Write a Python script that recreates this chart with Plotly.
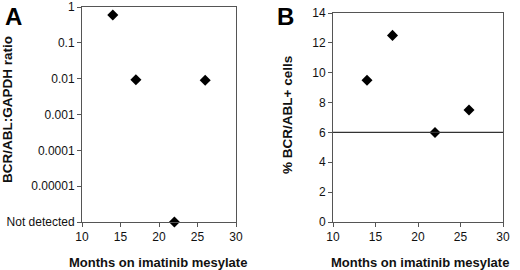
import plotly.graph_objects as go

# Panel A data
months_a = [14, 17, 22, 26]
ratio_a = [0.6, 0.0093, 1e-6, 0.009]   # 1e-6 plotted at "Not detected"
a_tickvals = [1e-6, 1e-5, 1e-4, 1e-3, 1e-2, 1e-1, 1]
a_ticktext = ["Not detected", "0.00001", "0.0001", "0.001", "0.01", "0.1", "1"]

# Panel B data
months_b = [14, 17, 22, 26]
pct_b = [9.5, 12.5, 6.0, 7.5]
threshold_b = 6.0

x_ticks = [10, 15, 20, 25, 30]
b_yticks = [0, 2, 4, 6, 8, 10, 12, 14]

FONT = "Liberation Sans, Arial, sans-serif"
W, H = 520, 270

def fx(px):
    return px / W

def fy(py):
    return 1 - py / H

fig = go.Figure()
fig.add_trace(go.Scatter(x=months_a, y=ratio_a, mode="markers", xaxis="x", yaxis="y",
                         marker=dict(symbol="diamond", size=8.5, color="black"),
                         cliponaxis=False, showlegend=False))
fig.add_trace(go.Scatter(x=months_b, y=pct_b, mode="markers", xaxis="x2", yaxis="y2",
                         marker=dict(symbol="diamond", size=8.5, color="black"),
                         cliponaxis=False, showlegend=False))

axis_common = dict(showline=True, mirror=True, linecolor="#555", linewidth=1,
                   ticks="outside", ticklen=4, tickcolor="#555", showgrid=False,
                   zeroline=False, automargin=False,
                   tickfont=dict(family=FONT, size=12, color="#111"))

fig.update_layout(
    template="none",
    width=W, height=H, margin=dict(l=0, r=0, t=0, b=0, pad=0), autosize=False,
    plot_bgcolor="white", paper_bgcolor="white",
    xaxis=dict(domain=[fx(82), fx(236)], anchor="y", range=[10, 30],
               tickvals=x_ticks, **axis_common),
    yaxis=dict(domain=[fy(222), fy(7)], anchor="x", type="log", range=[-6, 0],
               tickvals=a_tickvals, ticktext=a_ticktext, **axis_common),
    xaxis2=dict(domain=[fx(333), fx(503)], anchor="y2", range=[10, 30],
                tickvals=x_ticks, **axis_common),
    yaxis2=dict(domain=[fy(222), fy(13)], anchor="x2", range=[0, 14],
                tickvals=b_yticks, **axis_common),
    shapes=[dict(type="line", xref="x2 domain", x0=0, x1=1, yref="y2",
                 y0=threshold_b, y1=threshold_b, line=dict(color="#333", width=1.2))],
)

title_font = dict(family=FONT, size=13.5, color="#111")
ann = [
    dict(text="<b>A</b>", x=fx(3), y=fy(1), xanchor="left", yanchor="top",
         font=dict(family=FONT, size=24, color="black")),
    dict(text="<b>B</b>", x=fx(275), y=fy(1), xanchor="left", yanchor="top",
         font=dict(family=FONT, size=24, color="black")),
    dict(text="<b>BCR/ABL:GAPDH ratio</b>", x=fx(7), y=fy(110), textangle=-90,
         xanchor="center", yanchor="middle", font=title_font),
    dict(text="<b>% BCR/ABL+ cells</b>", x=fx(287), y=fy(115), textangle=-90,
         xanchor="center", yanchor="middle", font=title_font),
    dict(text="<b>Months on imatinib mesylate</b>", x=fx(158), y=fy(262),
         xanchor="center", yanchor="middle", font=dict(family=FONT, size=13, color="#111")),
    dict(text="<b>Months on imatinib mesylate</b>", x=fx(420), y=fy(262),
         xanchor="center", yanchor="middle", font=dict(family=FONT, size=13, color="#111")),
]
for a in ann:
    a.update(xref="paper", yref="paper", showarrow=False)
    fig.add_annotation(**a)

fig.write_html("out.html", config={"displayModeBar": False},
               post_script="document.body.style.margin='0';document.body.style.padding='0';")
